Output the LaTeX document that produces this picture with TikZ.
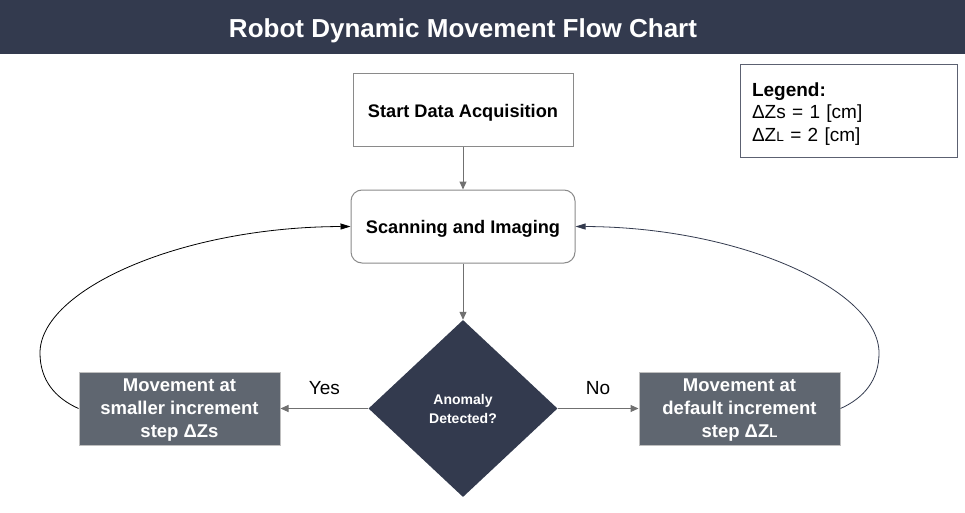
\documentclass[tikz,border=0pt]{standalone}
\usepackage{fontspec}
\setmainfont{Liberation Sans}
\usepackage{xcolor}
\usetikzlibrary{arrows.meta,positioning,shapes.geometric}

\definecolor{navy}{HTML}{333A4E}
\definecolor{slate}{HTML}{5F6670}
\definecolor{edgegray}{HTML}{8A8A8A}
\definecolor{linegray}{HTML}{707070}
\newcommand{\capL}{\scalebox{0.72}{L}}

\begin{document}
\begin{tikzpicture}[x=1pt,y=-1pt,
    plainbox/.style={draw=edgegray,line width=1pt,fill=white,minimum width=220pt,minimum height=73pt,text depth=0pt,font=\fontsize{18.2}{22}\selectfont\bfseries},
    movebox/.style={draw=gray!50,line width=1pt,fill=slate,text=white,minimum width=201pt,minimum height=73pt,align=center,inner sep=1pt,text depth=-1pt,font=\fontsize{18.5}{23}\selectfont\bfseries},
    decision/.style={diamond,fill=navy,text=white,minimum width=189pt,minimum height=177pt,inner sep=0pt,align=center,font=\fontsize{14}{19}\selectfont\bfseries},
    flow/.style={linegray,line width=1pt,-{Triangle[length=8pt,width=7pt]}},
    loop/.style={line width=0.8pt,-{Triangle[length=10pt,width=6pt]}}]
    \useasboundingbox (0,0) rectangle (965,513);

    % Title bar
    \fill[navy] (0,0) rectangle (965,54);
    \node[text=white,text depth=0pt,font=\fontsize{26}{30}\selectfont\bfseries] (title) at (463,28) {Robot Dynamic Movement Flow Chart};

    % Legend
    \node[draw=navy!80,line width=0.8pt,minimum width=217pt,minimum height=93pt,text width=193pt,align=left,font=\fontsize{19}{22.5}\selectfont] (legend) at (848.5,110.5)
        {\rule{0pt}{20pt}\textbf{Legend:}\\ΔZs = 1 [cm]\\ΔZ\capL{} = 2 [cm]};

    % Boxes
    \node[plainbox] (start) at (463,110.5) {Start Data Acquisition};
    \node[plainbox,rounded corners=11pt,minimum width=224pt] (scan) at (463,226.5) {Scanning and Imaging};
    \node[decision] (anomaly) at (463,408.5) {Anomaly\\Detected?};
    \node[movebox] (small) at (179.5,408.5) {Movement at\\smaller increment\\step ΔZs};
    \node[movebox] (default) at (739.5,408.5) {Movement at\\default increment\\step ΔZ\capL};

    % Arrows
    \draw[flow] (start) -- (scan);
    \draw[flow] (scan) -- (anomaly);
    \draw[flow] (anomaly) -- node[above=10pt,text=black,font=\fontsize{19}{22}\selectfont] (yes) {Yes} (small);
    \draw[flow] (anomaly) -- node[above=10pt,text=black,font=\fontsize{19}{22}\selectfont] (no) {No} (default);

    % Loops back
    \draw[loop,black] (small.west) .. controls (55,398) and (40,380) .. (40,353)
        .. controls (40,290) and (180,227) .. (scan.west);
    \draw[loop,navy] (default.east) .. controls (864,398) and (879,380) .. (879,353)
        .. controls (879,290) and (740,227) .. (scan.east);
\end{tikzpicture}
\end{document}
